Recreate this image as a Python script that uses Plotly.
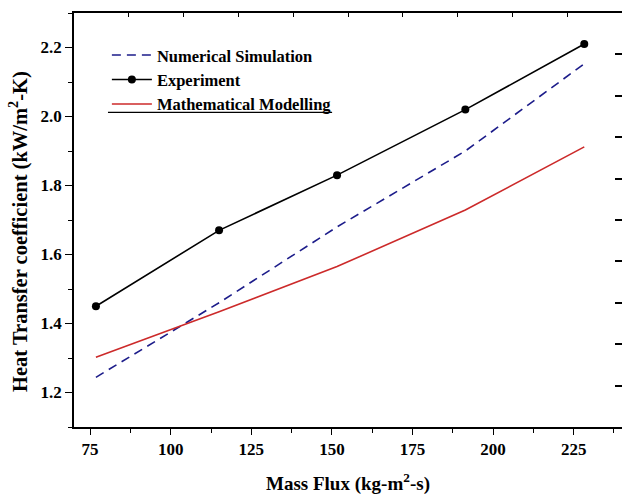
import plotly.graph_objects as go

# Data
mass_flux = [76.8, 115.0, 151.6, 191.4, 228.3]
experiment = [1.45, 1.67, 1.83, 2.02, 2.21]
numerical = [1.244, 1.46, 1.68, 1.90, 2.153]
mathematical = [1.302, 1.434, 1.565, 1.729, 1.912]

x_ticks = [75, 100, 125, 150, 175, 200, 225]
y_ticks = [1.2, 1.4, 1.6, 1.8, 2.0, 2.2]

FONT = "Times New Roman, Liberation Serif, serif"

fig = go.Figure()
fig.add_trace(go.Scatter(
    x=mass_flux, y=numerical, mode="lines", name="<b>Numerical Simulation</b>",
    line=dict(color="#1c1c8a", width=1.6, dash="9px,6px")))
fig.add_trace(go.Scatter(
    x=mass_flux, y=experiment, mode="lines+markers", name="<b>Experiment</b>",
    line=dict(color="black", width=1.6),
    marker=dict(color="black", size=8, symbol="circle")))
fig.add_trace(go.Scatter(
    x=mass_flux, y=mathematical, mode="lines", name="<b>Mathematical Modelling</b>",
    line=dict(color="#cc2a2a", width=1.6)))
# empty helper trace to carry the secondary (tick-only) axes
fig.add_trace(go.Scatter(x=[None], y=[None], xaxis="x2", yaxis="y2",
                         showlegend=False, hoverinfo="skip"))

fig.update_layout(
    width=622, height=495,
    margin=dict(l=74, r=0, t=13, b=68),
    paper_bgcolor="white", plot_bgcolor="white",
    font=dict(family=FONT, color="black", size=16),
    showlegend=True,
    legend=dict(x=0.06, y=0.94, xanchor="left", yanchor="top",
                bgcolor="rgba(0,0,0,0)", font=dict(size=16.5, family=FONT),
                itemwidth=40, tracegroupgap=0),
    xaxis=dict(
        range=[70, 240], tickvals=x_ticks,
        ticktext=[f"<b>{v}</b>" for v in x_ticks],
        ticks="outside", ticklen=6, tickwidth=1.2, tickcolor="black",
        minor=dict(dtick=12.5, tick0=75, ticks="outside", ticklen=4,
                   tickwidth=1, tickcolor="black", showgrid=False),
        showline=True, linecolor="black", linewidth=1.5,
        showgrid=False, zeroline=False,
        tickfont=dict(size=17, family=FONT),
        title=dict(text="<b>Mass Flux (kg-m<sup>2</sup>-s)</b>",
                   font=dict(size=19, family=FONT), standoff=20),
    ),
    yaxis=dict(
        range=[1.1, 2.3], tickvals=y_ticks,
        ticktext=[f"<b>{v:.1f}</b>" for v in y_ticks],
        ticks="outside", ticklen=7, tickwidth=1.2, tickcolor="black",
        minor=dict(dtick=0.1, tick0=1.1, ticks="outside", ticklen=4,
                   tickwidth=1, tickcolor="black", showgrid=False),
        showline=True, linecolor="black", linewidth=1.5,
        showgrid=False, zeroline=False,
        tickfont=dict(size=17, family=FONT),
    ),
    xaxis2=dict(
        overlaying="x", side="top", anchor="y2", range=[0, 10], dtick=1, tick0=0,
        ticks="inside", ticklen=4, tickwidth=1.2, tickcolor="black",
        showticklabels=False, showline=True, linecolor="black", linewidth=1.5,
        showgrid=False, zeroline=False, fixedrange=True,
    ),
    yaxis2=dict(
        overlaying="y", side="right", anchor="x2", range=[0, 10], dtick=1, tick0=0,
        ticks="inside", ticklen=7, tickwidth=1.5, tickcolor="black",
        showticklabels=False, showline=False,
        showgrid=False, zeroline=False, fixedrange=True,
    ),
    annotations=[dict(
        text="<b>Heat Transfer coefficient (kW/m<sup>2</sup>-K)</b>",
        textangle=-90, xref="paper", yref="paper",
        x=-56 / 548, y=1 - (232 - 13) / 414, xanchor="center", yanchor="middle",
        showarrow=False, font=dict(size=20.5, family=FONT, color="black"))],
    shapes=[dict(type="line", xref="paper", yref="paper",
                 x0=0.062, x1=0.471, y0=0.760, y1=0.760,
                 line=dict(color="black", width=1.3))],
)

fig.write_html("out.html", config={"displayModeBar": False})

# remove the browser's default page margin so the figure sits at (0, 0)
with open("out.html", "r", encoding="utf-8") as f:
    html = f.read()
html = html.replace("<head>", "<head><style>html,body{margin:0;padding:0;}</style>", 1)
with open("out.html", "w", encoding="utf-8") as f:
    f.write(html)
